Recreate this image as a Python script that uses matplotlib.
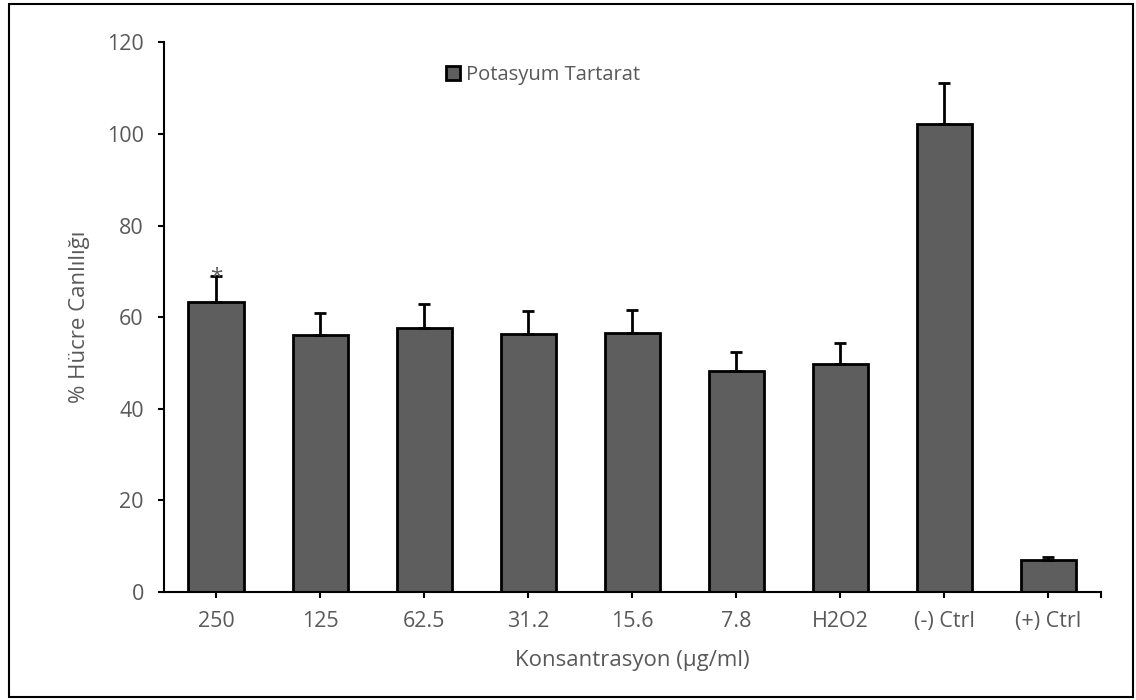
import matplotlib.pyplot as plt
from matplotlib.patches import Rectangle

plt.rcParams['font.family'] = ['Open Sans', 'DejaVu Sans']

categories = ['250', '125', '62.5', '31.2', '15.6', '7.8', 'H2O2', '(-) Ctrl', '(+) Ctrl']
viability = [63.2, 56.2, 57.7, 56.4, 56.6, 48.3, 49.8, 102.1, 7.0]
err_upper = [5.7, 4.8, 5.1, 5.0, 5.0, 4.2, 4.5, 9.1, 0.6]
significant = [0]  # indices marked with *

text_color = '#595959'
bar_color = '#5e5e5e'

fig = plt.figure(figsize=(11.36, 7.0), dpi=100)
ax = fig.add_axes([164 / 1136, 1 - 592 / 700, (1100.5 - 164) / 1136, (592 - 42.3) / 700])

x = list(range(len(categories)))
ax.bar(x, viability, width=0.53, color=bar_color, edgecolor='black', linewidth=2,
       label='Potasyum Tartarat', zorder=2)
ax.errorbar(x, viability, yerr=[[0] * len(x), err_upper], fmt='none', ecolor='black',
            elinewidth=2, capsize=4.5, capthick=2, zorder=3)

for i in significant:
    ax.annotate('*', (x[i], viability[i] + err_upper[i]), xytext=(0, -8),
                textcoords='offset points', ha='center', va='bottom',
                fontsize=16, color=text_color)

ax.set_xlim(-0.5, len(categories) - 0.5)
ax.set_ylim(0, 120)
ax.set_yticks(range(0, 121, 20))
ax.set_xticks(x)
ax.set_xticklabels(categories)

for side in ['top', 'right']:
    ax.spines[side].set_visible(False)
for side in ['left', 'bottom']:
    ax.spines[side].set_linewidth(1.5)
ax.tick_params(axis='y', direction='out', length=4.5, width=1.5, pad=10,
               labelsize=15.5, labelcolor=text_color)
ax.tick_params(axis='x', direction='out', length=4.5, width=1.5, pad=9,
               labelsize=15.5, labelcolor=text_color)
# extra tick at right end of category axis
ax.plot([len(categories) - 0.5] * 2, [0, -1.0], color='black', lw=1.5,
        clip_on=False, zorder=4)

ax.set_xlabel('Konsantrasyon (µg/ml)', fontsize=16, color=text_color, labelpad=13)
ax.set_ylabel('% Hücre Canlılığı', fontsize=16, color=text_color, labelpad=12)

leg = ax.legend(loc='center left', bbox_to_anchor=(428 / 1136, 1 - 75 / 700),
                bbox_transform=fig.transFigure, frameon=False, fontsize=14.5,
                handlelength=0.7, handleheight=0.7, handletextpad=0.3)
for t in leg.get_texts():
    t.set_color(text_color)

fig.patches.append(Rectangle((9 / 1136, 1 - 697 / 700), (1133 - 9) / 1136, (697 - 4) / 700,
                             transform=fig.transFigure, fill=False, edgecolor='black',
                             linewidth=1.5))

fig.savefig('out.png', dpi=100, facecolor='white')
